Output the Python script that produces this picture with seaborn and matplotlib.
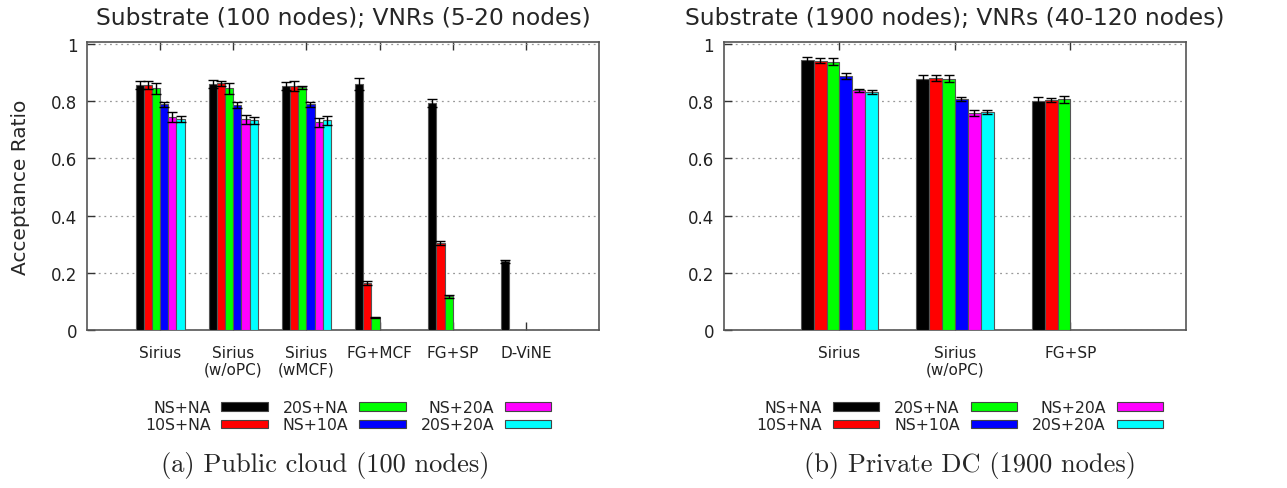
import numpy as np
import pandas as pd
import seaborn as sns
import matplotlib.pyplot as plt
from matplotlib.patches import Patch

# configurations (hue levels) and their colours
configs = ["NS+NA", "10S+NA", "20S+NA", "NS+10A", "NS+20A", "20S+20A"]
colors = ["#000000", "#ff0000", "#00ff00", "#0000ff", "#ff00ff", "#00ffff"]

# (a) public cloud, 100 nodes
algos_a = ["Sirius", "Sirius\n(w/oPC)", "Sirius\n(wMCF)", "FG+MCF", "FG+SP", "D-ViNE"]
vals_a = [
    [0.857, 0.857, 0.845, 0.789, 0.746, 0.738],
    [0.860, 0.863, 0.845, 0.787, 0.737, 0.734],
    [0.853, 0.854, 0.849, 0.789, 0.726, 0.734],
    [0.860, 0.163, 0.044, None, None, None],
    [0.794, 0.304, 0.118, None, None, None],
    [0.240, None, None, None, None, None],
]
errs_a = [
    [0.015, 0.015, 0.018, 0.010, 0.018, 0.012],
    [0.015, 0.008, 0.020, 0.009, 0.016, 0.012],
    [0.013, 0.018, 0.006, 0.010, 0.016, 0.016],
    [0.022, 0.007, 0.002, None, None, None],
    [0.015, 0.008, 0.006, None, None, None],
    [0.005, None, None, None, None, None],
]

# (b) private DC, 1900 nodes
algos_b = ["Sirius", "Sirius\n(w/oPC)", "FG+SP"]
vals_b = [
    [0.945, 0.942, 0.938, 0.888, 0.839, 0.833],
    [0.877, 0.882, 0.879, 0.809, 0.760, 0.763],
    [0.800, 0.804, 0.807, None, None, None],
]
errs_b = [
    [0.010, 0.009, 0.013, 0.010, 0.005, 0.006],
    [0.015, 0.010, 0.012, 0.007, 0.010, 0.006],
    [0.015, 0.006, 0.012, None, None, None],
]

titles = ["Substrate (100 nodes); VNRs (5-20 nodes)",
          "Substrate (1900 nodes); VNRs (40-120 nodes)"]
captions = ["(a) Public cloud (100 nodes)", "(b) Private DC (1900 nodes)"]


def to_frame(algos, vals, errs):
    rows = []
    for i, a in enumerate(algos):
        for j, c in enumerate(configs):
            if vals[i][j] is not None:
                rows.append({"algo": a, "config": c, "ratio": vals[i][j], "err": errs[i][j]})
    return pd.DataFrame(rows)


sns.set_style("white")
plt.rcParams['font.family'] = ['DejaVu Sans']

fig = plt.figure(figsize=(12.87, 4.89), dpi=100)
ax_a = fig.add_axes([0.0676, 0.323, 0.3978, 0.589])
ax_b = fig.add_axes([0.5625, 0.323, 0.3590, 0.589])

panels = [(ax_a, algos_a, vals_a, errs_a), (ax_b, algos_b, vals_b, errs_b)]

for k, (ax, algos, vals, errs) in enumerate(panels):
    df = to_frame(algos, vals, errs)
    sns.barplot(data=df, x="algo", y="ratio", hue="config", order=algos,
                hue_order=configs, palette=colors, saturation=1, width=0.67,
                errorbar=None, edgecolor="#555555", linewidth=0.8, legend=False,
                ax=ax, zorder=3)

    # error bars on top of each bar
    bar_containers = list(ax.containers)
    for h, cont in enumerate(bar_containers):
        for bar in cont.patches:
            if not np.isfinite(bar.get_height()):
                continue
            xc = bar.get_x() + bar.get_width() / 2
            i = int(round(xc))
            e = errs[i][h]
            ax.errorbar(xc, bar.get_height(), yerr=e, fmt="none", ecolor="black",
                        elinewidth=1, capsize=3.5, capthick=1, zorder=4)

    ax.set_xlim(-1, len(algos))
    ax.set_ylim(0, 1.007)
    ax.set_yticks([0, 0.2, 0.4, 0.6, 0.8, 1.0])
    ax.set_yticklabels(["0", "0.2", "0.4", "0.6", "0.8", "1"], fontsize=12, color="#222222")
    ax.set_xticks(range(len(algos)))
    ax.set_xticklabels(algos, fontsize=11, color="#222222", linespacing=1.1)
    ax.tick_params(axis="x", direction="in", top=True, bottom=True, length=6, width=1,
                   color="#333333", pad=11)
    ax.tick_params(axis="y", direction="in", left=True, right=False, length=6, width=1,
                   color="#333333", pad=7)
    ax.yaxis.grid(True, linestyle=(0, (1.5, 3)), color="#999999", linewidth=0.9, zorder=0)
    ax.xaxis.grid(False)
    ax.set_axisbelow(True)
    for s in ax.spines.values():
        s.set_color("#555555")
        s.set_linewidth(1.2)
    ax.set_xlabel("")
    ax.set_ylabel("")
    ax.set_title(titles[k], fontsize=16.8, pad=13)

    handles = [Patch(facecolor=c, edgecolor="#444444", linewidth=0.8) for c in colors]
    ax.legend(handles, configs, ncol=3, markerfirst=False, frameon=False,
              loc="upper center", bbox_to_anchor=(0.51, -0.205), fontsize=11.3,
              handlelength=2.95, handleheight=0.45, columnspacing=0.95,
              handletextpad=0.7, labelspacing=0.15, borderpad=0.2)

ax_a.set_ylabel("Acceptance Ratio", fontsize=14.5, labelpad=15)

fig.text(0.2525, 0.048, captions[0], ha="center", va="center", fontsize=19, family="cmr10")
fig.text(0.754, 0.048, captions[1], ha="center", va="center", fontsize=19, family="cmr10")

plt.savefig("out.png", dpi=100)
plt.close()
